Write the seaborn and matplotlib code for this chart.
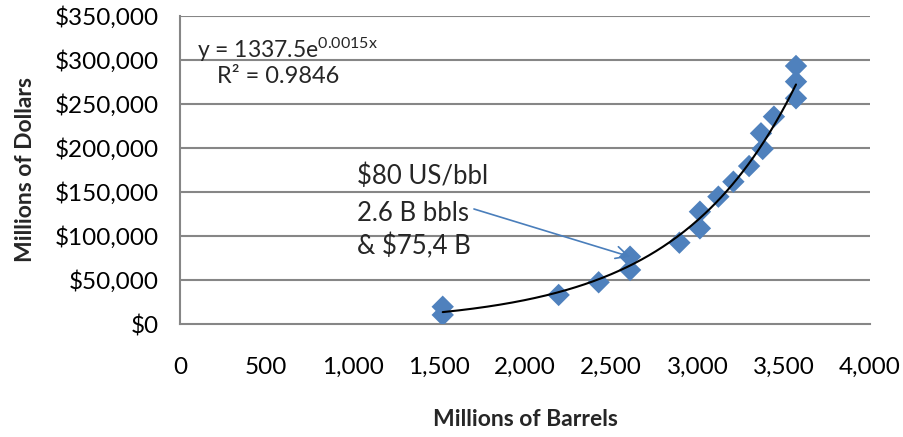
import numpy as np
import pandas as pd
import matplotlib
matplotlib.use("Agg")
import matplotlib.pyplot as plt
import matplotlib.ticker as mticker
import seaborn as sns

# Data
barrels = [1523, 1523, 2195, 2427, 2609, 2609, 2895, 3014, 3014, 3121, 3208,
           3299, 3378, 3368, 3443, 3571, 3571, 3571]
dollars = [19600, 10300, 33000, 47400, 76500, 61400, 92400, 127600, 108700,
           144700, 161700, 179500, 198900, 216700, 235600, 293200, 275400, 256500]
x_ticks = [0, 500, 1000, 1500, 2000, 2500, 3000, 3500, 4000]
y_ticks = [0, 50000, 100000, 150000, 200000, 250000, 300000, 350000]
eq_text = "y = 1337.5e$^{0.0015x}$"
r2_text = "R² = 0.9846"
note_lines = ["$80 US/bbl", "2.6 B bbls", "& $75,4 B"]
note_point = (2609, 76500)

sns.set_theme(style="white")
plt.rcParams['font.family'] = ['Lato', 'DejaVu Sans']
plt.rcParams['mathtext.fontset'] = 'custom'
plt.rcParams['mathtext.rm'] = 'Lato'
plt.rcParams['mathtext.it'] = 'Lato'
plt.rcParams['mathtext.default'] = 'rm'

df = pd.DataFrame({"barrels": barrels, "dollars": dollars})

fig = plt.figure(figsize=(9.04, 4.37), dpi=100)
ax = fig.add_axes([180/904, 1-324/437, 690/904, 308/437])

grid_col = "#868686"
for yv in y_ticks[1:]:
    ax.axhline(yv, color=grid_col, lw=1.5, zorder=0)

sns.scatterplot(data=df, x="barrels", y="dollars", marker="D", s=130,
                color="#4F81BD", edgecolor="none", ax=ax, zorder=3)

# Exponential trendline fitted from data
b, loga = np.polyfit(df["barrels"], np.log(df["dollars"]), 1)
xs = np.linspace(min(barrels), max(barrels), 200)
trend = pd.DataFrame({"x": xs, "y": np.exp(loga) * np.exp(b * xs)})
sns.lineplot(data=trend, x="x", y="y", color="black", lw=1.5, ax=ax, zorder=4)

ax.set_xlim(x_ticks[0], x_ticks[-1])
ax.set_ylim(y_ticks[0], y_ticks[-1])
ax.set_xticks(x_ticks)
ax.set_yticks(y_ticks)
ax.xaxis.set_major_formatter(mticker.FuncFormatter(lambda v, p: f"{int(v):,}"))
ax.yaxis.set_major_formatter(mticker.FuncFormatter(lambda v, p: f"${int(v):,}"))
ax.tick_params(axis="both", which="major", labelsize=17.5, colors=grid_col,
               labelcolor="black", length=6, width=1.5, direction="out")
ax.tick_params(axis="x", pad=18)
ax.tick_params(axis="y", pad=9)
for side in ["top", "right"]:
    ax.spines[side].set_visible(False)
for side in ["left", "bottom"]:
    ax.spines[side].set_color(grid_col)
    ax.spines[side].set_linewidth(1.5)

ax.set_xlabel("Millions of Barrels", fontsize=16.5, fontweight="bold", labelpad=22)
ax.set_ylabel("Millions of Dollars", fontsize=16.5, fontweight="bold", labelpad=14)

ax.text(99, 311400, eq_text, fontsize=16.5, va="center", ha="left")
ax.text(214, 280700, r2_text, fontsize=17, va="center", ha="left")

line_y = [176.7, 213.3, 246.7]
for t, py in zip(note_lines, line_y):
    ax.text(1026, (324 - py) / 44 * 50000, t, fontsize=18.5, va="center", ha="left")

ax.annotate("", xy=note_point, xytext=(1704, 130700),
            arrowprops=dict(arrowstyle="->", color="#4A7EBB", lw=1.2,
                            mutation_scale=22, shrinkA=0, shrinkB=0), zorder=5)

fig.savefig("out.png", dpi=100)
